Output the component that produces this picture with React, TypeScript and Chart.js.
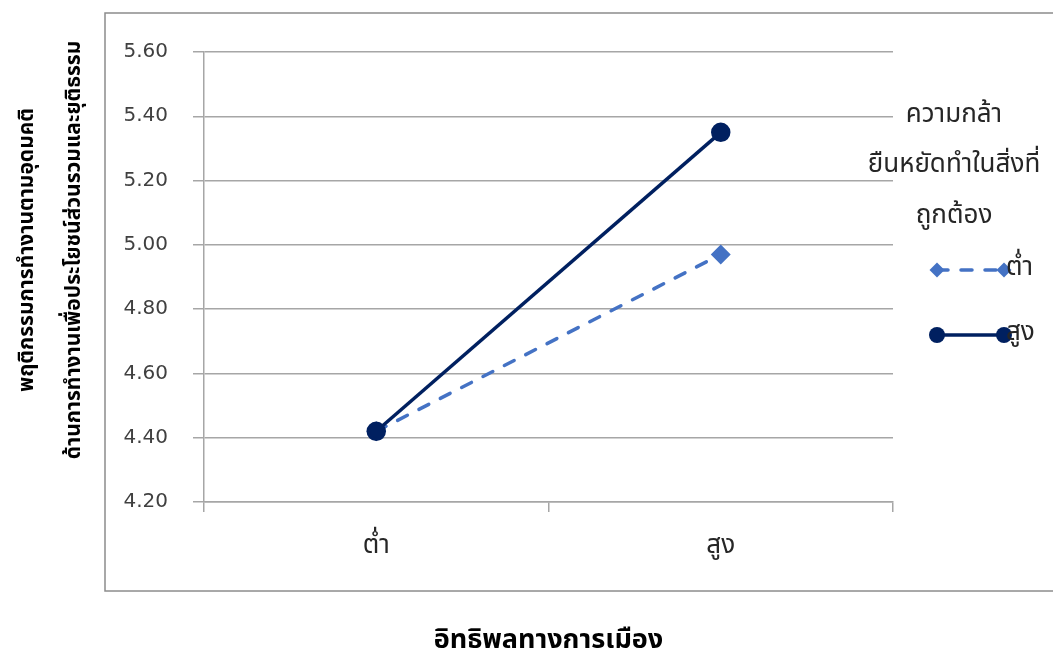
import React, { useEffect, useRef } from "react";
import { Chart, registerables } from "chart.js";

Chart.register(...registerables);

const categories = ["ต่ำ", "สูง"];
const lowValues = [4.42, 4.97];
const highValues = [4.42, 5.35];
const seriesNames = ["ต่ำ", "สูง"];
const legendTitle = ["ความกล้า", "ยืนหยัดทำในสิ่งที่", "ถูกต้อง"];
const yTitle = ["พฤติกรรมการทำงานตามอุดมคติ", "ด้านการทำงานเพื่อประโยชน์ส่วนรวมและยุติธรรม"];
const xTitle = "อิทธิพลทางการเมือง";
const yMin = 4.2;
const yMax = 5.6;
const yStep = 0.2;

const FONT = "Tahoma, 'Noto Sans Thai', 'Noto Sans', 'DejaVu Sans', sans-serif";
const NUM_FONT = "'DejaVu Sans', 'Noto Sans', sans-serif";
const GRID = "#a6a6a6";
const LOW_COLOR = "#4472c4";
const HIGH_COLOR = "#002060";
const TEXT = "#262626";

const framePlugin = {
  id: "frame",
  beforeDraw(chart: any) {
    const ctx = chart.ctx;
    ctx.save();
    ctx.fillStyle = "#ffffff";
    ctx.fillRect(0, 0, chart.width, chart.height);
    ctx.strokeStyle = "#8c8c8c";
    ctx.lineWidth = 1.5;
    ctx.strokeRect(105, 13, 960, 578);
    ctx.restore();
  },
};

const titlesPlugin = {
  id: "axisTitles",
  afterDraw(chart: any) {
    const ctx = chart.ctx;
    const area = chart.chartArea;
    ctx.save();
    ctx.fillStyle = "#000000";
    ctx.font = `bold 21px ${FONT}`;
    ctx.textAlign = "center";
    ctx.textBaseline = "alphabetic";
    const baseX = [33, 80];
    yTitle.forEach((t, i) => {
      ctx.save();
      ctx.translate(baseX[i], 250);
      ctx.rotate(-Math.PI / 2);
      ctx.fillText(t, 0, 0);
      ctx.restore();
    });
    ctx.font = `bold 27px ${FONT}`;
    ctx.fillText(xTitle, (area.left + area.right) / 2, 648);
    ctx.restore();
  },
};

const legendPlugin = {
  id: "customLegend",
  afterDraw(chart: any) {
    const ctx = chart.ctx;
    ctx.save();
    ctx.fillStyle = TEXT;
    ctx.font = `26px ${FONT}`;
    ctx.textAlign = "center";
    ctx.textBaseline = "alphabetic";
    const titleY = [122, 172, 223];
    legendTitle.forEach((t, i) => ctx.fillText(t, 954, titleY[i]));
    const entryY = [270, 335];
    chart.data.datasets.forEach((ds: any, i: number) => {
      const y = entryY[i];
      const x1 = 937;
      const x2 = 1004;
      ctx.strokeStyle = ds.borderColor;
      ctx.lineWidth = ds.borderWidth;
      ctx.lineCap = ds.borderCapStyle || "butt";
      ctx.setLineDash(ds.borderDash || []);
      ctx.beginPath();
      ctx.moveTo(x1, y);
      ctx.lineTo(x2, y);
      ctx.stroke();
      ctx.setLineDash([]);
      ctx.fillStyle = ds.pointBackgroundColor;
      [x1, x2].forEach((x) => {
        ctx.beginPath();
        if (ds.pointStyle === "rectRot") {
          const r = ds.pointRadius;
          ctx.moveTo(x, y - r);
          ctx.lineTo(x + r, y);
          ctx.lineTo(x, y + r);
          ctx.lineTo(x - r, y);
          ctx.closePath();
        } else {
          ctx.arc(x, y, ds.pointRadius, 0, Math.PI * 2);
        }
        ctx.fill();
      });
      ctx.fillStyle = TEXT;
      ctx.textAlign = "left";
      ctx.textBaseline = "middle";
      ctx.fillText(seriesNames[i], x2 + 2, y);
    });
    ctx.restore();
  },
};

export default function App() {
  const ref = useRef<HTMLCanvasElement | null>(null);
  useEffect(() => {
    if (!ref.current) return;
    const chart = new Chart(ref.current, {
      type: "line",
      data: {
        labels: categories,
        datasets: [
          {
            label: seriesNames[0],
            data: lowValues,
            borderColor: LOW_COLOR,
            backgroundColor: LOW_COLOR,
            pointBackgroundColor: LOW_COLOR,
            pointBorderColor: LOW_COLOR,
            borderWidth: 3.5,
            borderDash: [11, 13],
            borderCapStyle: "round",
            pointStyle: "rectRot",
            pointRadius: 7.5,
            order: 1,
          },
          {
            label: seriesNames[1],
            data: highValues,
            borderColor: HIGH_COLOR,
            backgroundColor: HIGH_COLOR,
            pointBackgroundColor: HIGH_COLOR,
            pointBorderColor: HIGH_COLOR,
            borderWidth: 3.5,
            pointStyle: "circle",
            pointRadius: 8,
            order: 0,
          },
        ],
      },
      options: {
        animation: false,
        responsive: false,
        layout: { padding: { left: 0, right: 160, top: 52, bottom: 0 } },
        plugins: { legend: { display: false }, tooltip: { enabled: false } },
        scales: {
          x: {
            offset: true,
            grid: {
              offset: true,
              drawOnChartArea: false,
              drawTicks: true,
              tickLength: 10,
              color: GRID,
              lineWidth: 1.5,
            },
            border: { display: true, color: GRID, width: 1.5 },
            ticks: { padding: 20, color: TEXT, font: { family: FONT, size: 26 } },
            title: { display: false },
            afterFit(scale: any) {
              scale.height = 148;
            },
          },
          y: {
            min: yMin,
            max: yMax,
            grid: { color: GRID, lineWidth: 1.5, tickLength: 11, drawTicks: true },
            border: { display: true, color: GRID, width: 1.5 },
            ticks: {
              stepSize: yStep,
              padding: 25,
              color: "#404040",
              font: { family: NUM_FONT, size: 20 },
              callback: (v: any) => Number(v).toFixed(2),
            },
            title: { display: false },
            afterFit(scale: any) {
              scale.width = 204;
            },
          },
        },
      },
      plugins: [framePlugin, titlesPlugin, legendPlugin],
    });
    return () => chart.destroy();
  }, []);
  return (
    <div style={{ position: "absolute", left: 0, top: 0, width: 1053, height: 650 }}>
      <canvas ref={ref} width={1053} height={650} style={{ width: 1053, height: 650 }} />
    </div>
  );
}
